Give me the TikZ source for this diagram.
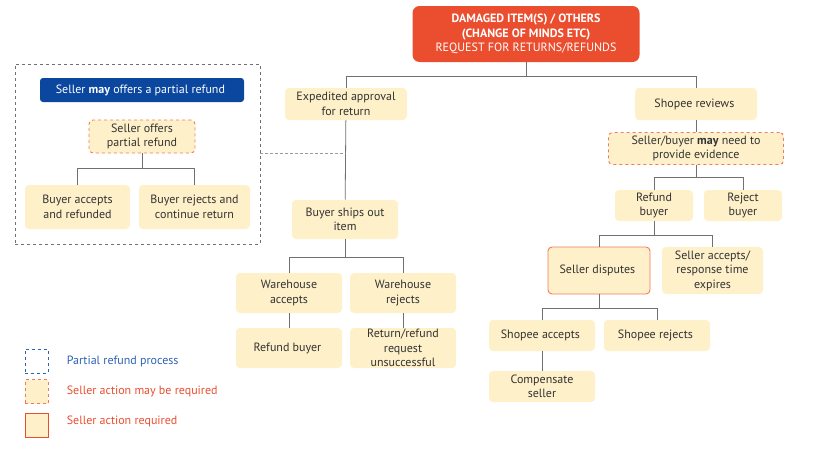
\documentclass[tikz,border=0pt]{standalone}
\usepackage{fontspec}
\setmainfont{PT Sans}
\usepackage{tikz}
\usetikzlibrary{positioning}

\definecolor{boxfill}{HTML}{FEF0C9}
\definecolor{hotred}{HTML}{EB4E2F}
\definecolor{edgered}{HTML}{F2795F}
\definecolor{darkblue}{HTML}{0B479F}
\definecolor{legblue}{HTML}{2F62B0}
\definecolor{linegray}{HTML}{707070}

\begin{document}
\begin{tikzpicture}[x=1pt,y=-1pt,thick,font=\fontsize{12}{14.5}\selectfont,
    box/.style={fill=boxfill, rounded corners=4pt, align=center, inner sep=1pt, text=black!80},
    maybe/.style={box, draw=edgered, dashed, line width=0.9pt},
    must/.style={box, draw=edgered, line width=0.9pt},
    head/.style={fill=darkblue, rounded corners=3pt, text=white, align=center, inner sep=1pt},
    conn/.style={draw=linegray, line width=0.8pt},
    legbox/.style={minimum width=23pt, minimum height=24pt, inner sep=0pt, line width=0.8pt}]

    \useasboundingbox (0,0) rectangle (821,455);

    \node[fill=hotred, rounded corners=7pt, text=white, align=center, minimum width=227pt, minimum height=56pt, inner sep=1pt] (top) at (526,34)
    { \textbf{DAMAGED ITEM(S) / OTHERS}\\ \textbf{(CHANGE OF MINDS ETC)}\\ REQUEST FOR RETURNS/REFUNDS };

    %------------------------------------------------

    \node[box, minimum width=122pt, minimum height=32pt] (exp) at (346,104)
    { Expedited approval\\ for return };

    \node[box, minimum width=106pt, minimum height=39pt] (ship) at (345,219.5)
    { Buyer ships out\\ item };

    \node[box, minimum width=106pt, minimum height=40pt] (wacc) at (289,293)
    { Warehouse\\ accepts };

    \node[box, minimum width=106pt, minimum height=40pt] (wrej) at (403,293)
    { Warehouse\\ rejects };

    \node[box, minimum width=106pt, minimum height=40pt] (wref) at (289,348)
    { Refund buyer };

    \node[box, minimum width=106pt, minimum height=40pt] (unsucc) at (403,348)
    { Return/refund\\ request\\ unsuccessful };

    %------------------------------------------------

    \node[box, minimum width=122pt, minimum height=32pt] (rev) at (696,104)
    { Shopee reviews };

    \node[maybe, minimum width=175pt, minimum height=32pt] (evid) at (696,148.5)
    { Seller/buyer \textbf{may} need to\\ provide evidence };

    \node[box, minimum width=78pt, minimum height=31pt] (refb) at (654,205.5)
    { Refund\\ buyer };

    \node[box, minimum width=78pt, minimum height=31pt] (rejb) at (743,205.5)
    { Reject\\ buyer };

    \node[must, minimum width=102pt, minimum height=47pt] (disp) at (599,270.5)
    { Seller disputes };

    \node[box, minimum width=101pt, minimum height=47pt] (sacc) at (712.5,270.5)
    { Seller accepts/\\ response time\\ expires };

    \node[box, minimum width=106pt, minimum height=31pt] (shacc) at (542,335.5)
    { Shopee accepts };

    \node[box, minimum width=106pt, minimum height=31pt] (shrej) at (657,335.5)
    { Shopee rejects };

    \node[box, minimum width=106pt, minimum height=31pt] (comp) at (542,386.5)
    { Compensate\\ seller };

    %------------------------------------------------

    \node[draw=linegray, dashed, line width=0.8pt, minimum width=245pt, minimum height=180pt, inner sep=0pt] (pframe) at (137.5,154) {};

    \node[head, minimum width=204pt, minimum height=24pt] (phead) at (142,90)
    { Seller \textbf{may} offers a partial refund };

    \node[maybe, minimum width=106pt, minimum height=33pt] (offer) at (142,136.5)
    { Seller offers\\ partial refund };

    \node[box, minimum width=105pt, minimum height=44pt] (bacc) at (77.5,207)
    { Buyer accepts\\ and refunded };

    \node[box, minimum width=111pt, minimum height=44pt] (brej) at (194.5,207)
    { Buyer rejects and\\ continue return };

    %------------------------------------------------

    \node[legbox, draw=legblue, dashed] (leg1) at (36.5,361) {};
    \node[legbox, draw=edgered, fill=boxfill, dashed] (leg2) at (36.5,391.5) {};
    \node[legbox, draw=hotred, fill=boxfill] (leg3) at (36.5,425) {};

    \node[right=18pt of leg1, inner sep=0pt, text=legblue] (lab1) { Partial refund process };
    \node[right=18pt of leg2, inner sep=0pt, text=hotred] (lab2) { Seller action may be required };
    \node[right=18pt of leg3, inner sep=0pt, text=hotred, yshift=4pt] (lab3) { Seller action required };

    %------------------------------------------------

    \draw[conn] (top.south) -- ++(0,14) coordinate (j0);
    \draw[conn] (j0) -| (exp.north);
    \draw[conn] (j0) -| (rev.north);

    \draw[conn] (exp) -- (ship);
    \draw[conn] (ship.south) -- ++(0,18) coordinate (j1);
    \draw[conn] (j1) -| (wacc.north);
    \draw[conn] (j1) -| (wrej.north);
    \draw[conn] (wacc) -- (wref);
    \draw[conn] (wrej) -- (unsucc);

    \draw[conn] (rev) -- (evid);
    \draw[conn] (evid.south) -- ++(0,12.5) coordinate (j2);
    \draw[conn] (j2) -| (refb.north);
    \draw[conn] (j2) -| (rejb.north);
    \draw[conn] (refb.south) -- ++(0,14) coordinate (j3);
    \draw[conn] (j3) -| (disp.north);
    \draw[conn] (j3) -| (sacc.north);
    \draw[conn] (disp.south) -- ++(0,14) coordinate (j4);
    \draw[conn] (j4) -| (shacc.north);
    \draw[conn] (j4) -| (shrej.north);
    \draw[conn] (shacc) -- (comp);

    \draw[conn] (offer.south) -- ++(0,15) coordinate (j5);
    \draw[conn] (j5) -| (bacc.north);
    \draw[conn] (j5) -| (brej.north);

    \draw[conn, densely dashed, draw=linegray!70] (pframe.east |- 0,153) -- (exp |- 0,153);
\end{tikzpicture}
\end{document}
